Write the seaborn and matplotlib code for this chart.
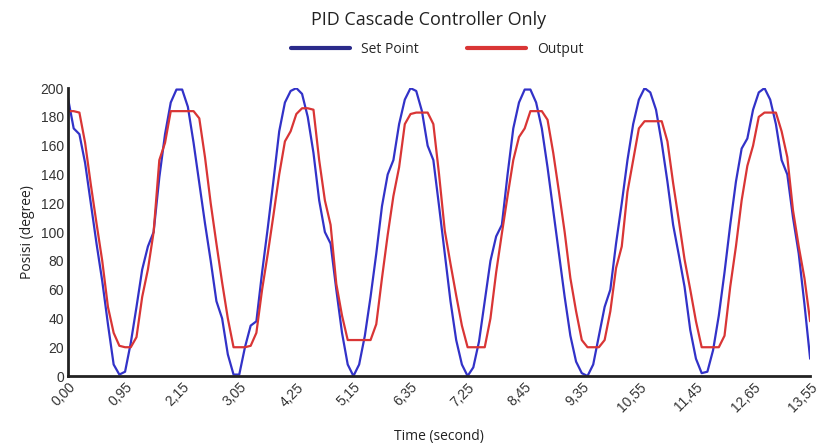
import numpy as np
import pandas as pd
import matplotlib
matplotlib.use("Agg")
import matplotlib.pyplot as plt
from matplotlib.lines import Line2D
import seaborn as sns

# tick labels on the time axis (evenly spaced, every 10 samples)
time_labels = ["0,00", "0,95", "2,15", "3,05", "4,25", "5,15", "6,35",
               "7,25", "8,45", "9,35", "10,55", "11,45", "12,65", "13,55"]

# one value every 1/10 of a tick interval
set_point = [
    193, 172, 168, 148, 120, 92, 66, 36, 8, 1,
    3, 23, 48, 74, 90, 100, 138, 168, 190, 199,
    199, 187, 162, 134, 106, 80, 52, 40, 15, 1,
    1, 20, 35, 38, 72, 103, 136, 170, 190, 198,
    200, 196, 180, 155, 122, 100, 92, 60, 30, 8,
    0, 8, 28, 55, 85, 118, 140, 150, 175, 192,
    200, 198, 184, 160, 150, 118, 85, 52, 25, 8,
    0, 6, 24, 52, 80, 97, 105, 140, 172, 190,
    199, 199, 190, 172, 145, 115, 85, 55, 28, 10,
    2, 0, 8, 28, 48, 60, 92, 120, 150, 175,
    192, 200, 197, 185, 162, 135, 105, 84, 62, 32,
    12, 2, 3, 18, 42, 72, 105, 135, 158, 165,
    185, 197, 200, 192, 175, 150, 140, 110, 85, 50,
    12,
]
output = [
    184, 184, 183, 162, 133, 106, 80, 48, 30, 21,
    20, 20, 27, 55, 74, 100, 150, 162, 184, 184,
    184, 184, 184, 179, 152, 120, 92, 65, 40, 20,
    20, 20, 21, 30, 60, 85, 112, 140, 163, 170,
    182, 186, 186, 185, 150, 122, 105, 64, 42, 25,
    25, 25, 25, 25, 36, 68, 98, 125, 145, 175,
    182, 183, 183, 183, 175, 140, 101, 78, 56, 35,
    20, 20, 20, 20, 40, 72, 99, 125, 150, 166,
    172, 184, 184, 184, 178, 155, 128, 100, 68, 45,
    25, 20, 20, 20, 25, 45, 75, 90, 128, 150,
    172, 177, 177, 177, 177, 163, 134, 108, 81, 60,
    38, 20, 20, 20, 20, 28, 62, 90, 122, 146,
    160, 180, 183, 183, 183, 170, 152, 115, 90, 68,
    38,
]

df = pd.DataFrame({
    "sample": np.arange(len(set_point)),
    "Set Point": set_point,
    "Output": output,
})

sns.set_style("white")
plt.rcParams["font.family"] = ["Liberation Sans", "DejaVu Sans"]

fig = plt.figure(figsize=(8.25, 4.45), dpi=100)
ax = fig.add_axes([0.0824, 0.155, 0.8996, 0.647])

sns.lineplot(data=df, x="sample", y="Set Point", ax=ax, color="#3232c8",
             linewidth=1.6)
sns.lineplot(data=df, x="sample", y="Output", ax=ax, color="#d93535",
             linewidth=1.6)

ax.set_xlim(0, len(set_point) - 1)
ax.set_ylim(0, 200)
ax.set_yticks(np.arange(0, 201, 20))
ax.set_xticks(np.arange(0, len(set_point), 10))
ax.set_xticklabels(time_labels, rotation=45, ha="right", rotation_mode="anchor")
ax.tick_params(axis="both", labelsize=10, labelcolor="#333333", length=0, pad=3)

for side in ["top", "right"]:
    ax.spines[side].set_visible(False)
for side in ["left", "bottom"]:
    ax.spines[side].set_color("#222222")
    ax.spines[side].set_linewidth(2)

ax.set_xlabel("Time (second)", fontsize=10, family="Open Sans", color="#222222", labelpad=10)
ax.set_ylabel("Posisi (degree)", fontsize=10, family="Open Sans", color="#222222", labelpad=4)

legend_handles = [Line2D([], [], color="#2a2a8a", linewidth=3),
                  Line2D([], [], color="#d93535", linewidth=3)]
fig.legend(legend_handles, ["Set Point", "Output"], loc="center",
           bbox_to_anchor=(0.53, 0.888), ncol=2, frameon=False,
           handlelength=4.2, columnspacing=3.5,
           prop={"family": "Open Sans", "size": 10})

fig.suptitle("PID Cascade Controller Only", x=0.52, y=0.975, fontsize=13,
             family="Open Sans", color="#222222")

fig.savefig("out.png", dpi=100)
